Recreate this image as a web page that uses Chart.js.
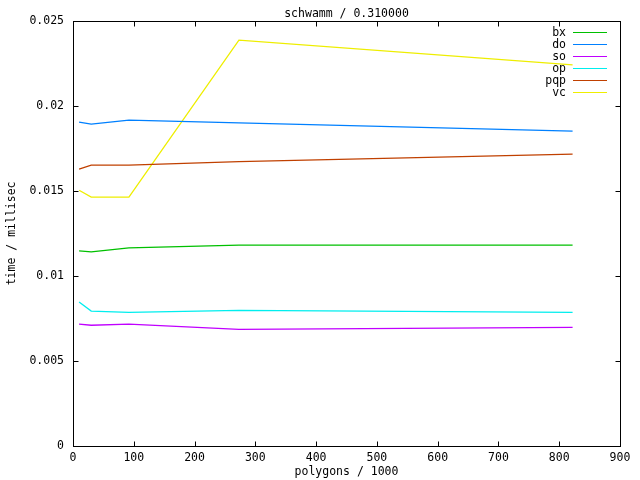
<!DOCTYPE html>
<html>
<head>
<meta charset="utf-8">
<script src="https://cdn.jsdelivr.net/npm/chart.js@4/dist/chart.umd.min.js"></script>
<style>
  html, body { margin: 0; padding: 0; background: #fff; }
</style>
</head>
<body>
<canvas id="chart" width="640" height="480"></canvas>
<script>
// polygons / 1000
const polygons = [10, 30, 92, 273, 822];

// time / millisec per method
const bx  = [0.01147, 0.01141, 0.01165, 0.01181, 0.01181];
const doT = [0.01904, 0.01892, 0.01916, 0.01900, 0.01851];
const so  = [0.00716, 0.00710, 0.00716, 0.00686, 0.00698];
const op  = [0.00847, 0.00793, 0.00786, 0.00798, 0.00786];
const pqp = [0.01628, 0.01651, 0.01651, 0.01672, 0.01716];
const vc  = [0.01504, 0.01463, 0.01463, 0.02386, 0.02241];

const seriesNames = ['bx', 'do', 'so', 'op', 'pqp', 'vc'];
const seriesValues = [bx, doT, so, op, pqp, vc];
const seriesColors = ['#00c000', '#0080ff', '#c000ff', '#00eeee', '#c04000', '#eeee00'];

const xTicks = [0, 900, 100];       // min, max, step
const yTicks = [0, 0.025, 0.005];

const FONT = { family: '"DejaVu Sans Mono", monospace', size: 11.5, weight: 'normal' };

// gnuplot-like frame with inward ticks on all four sides
const frame = {
  id: 'frame',
  beforeDatasetsDraw(chart) {
    const { ctx, chartArea: a, scales: { x, y } } = chart;
    const L = Math.round(a.left) + 0.5, R = Math.round(a.right) + 0.5;
    const T = Math.round(a.top) + 0.5, B = Math.round(a.bottom) + 0.5;
    ctx.save();
    ctx.strokeStyle = '#000';
    ctx.lineWidth = 1;
    ctx.strokeRect(L, T, R - L, B - T);
    ctx.beginPath();
    x.ticks.forEach(t => {
      const px = Math.round(x.getPixelForValue(t.value)) + 0.5;
      ctx.moveTo(px, B); ctx.lineTo(px, B - 5);
      ctx.moveTo(px, T); ctx.lineTo(px, T + 5);
    });
    y.ticks.forEach(t => {
      const py = Math.round(y.getPixelForValue(t.value)) + 0.5;
      ctx.moveTo(L, py); ctx.lineTo(L + 5, py);
      ctx.moveTo(R, py); ctx.lineTo(R - 5, py);
    });
    ctx.stroke();
    ctx.restore();
  }
};

// legend in the top right corner, text right-aligned with line sample after it
const keyBox = {
  id: 'keyBox',
  afterDatasetsDraw(chart) {
    const { ctx } = chart;
    ctx.save();
    ctx.font = `${FONT.size}px ${FONT.family}`;
    ctx.textAlign = 'right';
    ctx.textBaseline = 'middle';
    chart.data.datasets.forEach((ds, i) => {
      const yy = 32 + i * 12;
      ctx.fillStyle = '#000';
      ctx.fillText(ds.label, 566, yy + 1);
      ctx.strokeStyle = ds.borderColor;
      ctx.lineWidth = 1;
      ctx.beginPath();
      ctx.moveTo(573, yy + 0.5);
      ctx.lineTo(607, yy + 0.5);
      ctx.stroke();
    });
    ctx.restore();
  }
};

new Chart(document.getElementById('chart'), {
  type: 'line',
  data: {
    datasets: seriesNames.map((name, i) => ({
      label: name,
      data: polygons.map((p, j) => ({ x: p, y: seriesValues[i][j] })),
      borderColor: seriesColors[i],
      backgroundColor: seriesColors[i],
      borderWidth: 1.3,
      pointRadius: 0,
      tension: 0,
      fill: false,
    }))
  },
  options: {
    responsive: false,
    animation: false,
    devicePixelRatio: 1,
    layout: { padding: { top: 0, right: 20, bottom: 0, left: 0 } },
    plugins: {
      legend: { display: false },
      tooltip: { enabled: false },
      title: {
        display: true,
        fullSize: false,
        text: 'schwamm / 0.310000',
        color: '#000',
        font: FONT,
        padding: { top: 7, bottom: 0 }
      }
    },
    scales: {
      x: {
        type: 'linear',
        min: xTicks[0], max: xTicks[1],
        grid: { display: false, drawTicks: false },
        border: { display: false },
        ticks: { stepSize: xTicks[2], color: '#000', font: FONT, padding: 5, maxRotation: 0 },
        title: { display: true, text: 'polygons / 1000', color: '#000', font: FONT, padding: { top: 0, bottom: 1 } },
        afterFit: s => { s.height = 34; }
      },
      y: {
        min: yTicks[0], max: yTicks[1],
        grid: { display: false, drawTicks: false },
        border: { display: false },
        ticks: {
          stepSize: yTicks[2], color: '#000', font: FONT, padding: 9,
          callback: v => String(+v.toFixed(3))
        },
        title: { display: true, text: 'time / millisec', color: '#000', font: FONT, padding: { top: 5, bottom: 0 } },
        afterFit: s => { s.width = 73; }
      }
    }
  },
  plugins: [frame, keyBox]
});
</script>
</body>
</html>
